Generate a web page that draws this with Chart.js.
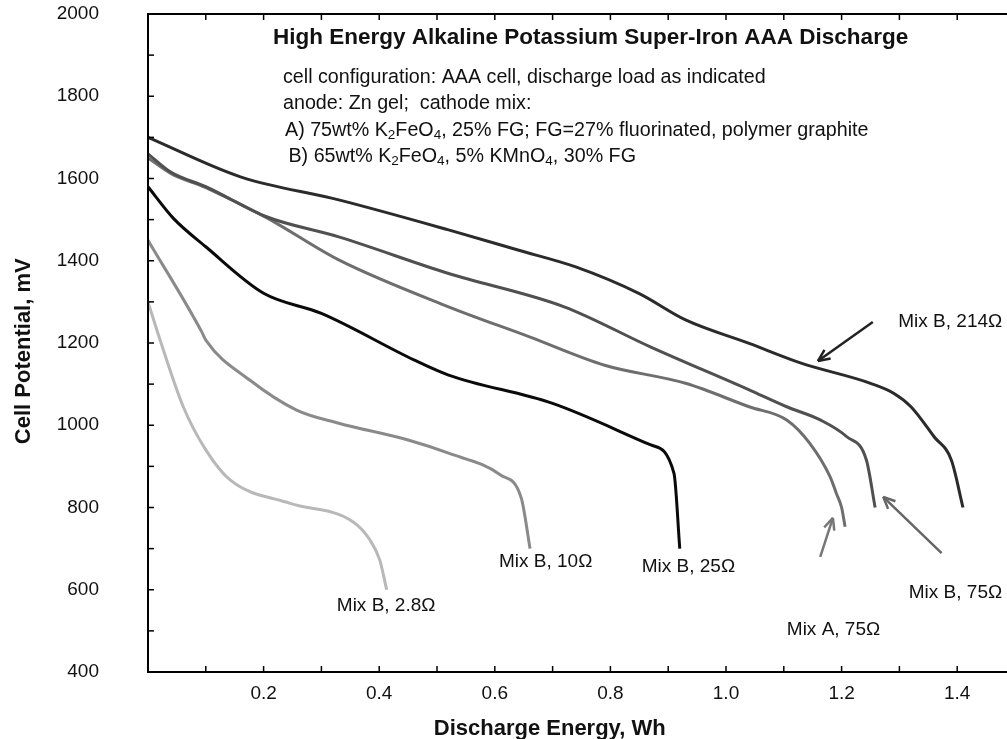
<!DOCTYPE html>
<html lang="en">
<head>
    <meta charset="UTF-8">
    <title>High Energy Alkaline Potassium Super-Iron AAA Discharge</title>
    <script src="https://cdn.jsdelivr.net/npm/chart.js"></script>
    <style>
        html, body { margin: 0; padding: 0; background: #fff; overflow: hidden; }
        #wrap { width: 1030px; height: 739px; }
    </style>
</head>
<body>
<div id="wrap"><canvas id="chart" width="1030" height="739"></canvas></div>
<script>
    // discharge energy (Wh) and cell potential (mV)
    const b214Energy = [0, 0.16, 0.33, 0.52, 0.64, 0.74, 0.85, 0.93, 1.04, 1.13, 1.25, 1.29, 1.32, 1.36, 1.39, 1.41];
    const b214Volt   = [1700, 1604, 1548, 1475, 1426, 1385, 1320, 1256, 1199, 1151, 1102, 1078, 1045, 972, 915, 800];

    const b75Energy = [0, 0.04, 0.10, 0.205, 0.33, 0.52, 0.72, 0.87, 1.04, 1.105, 1.163, 1.209, 1.243, 1.258];
    const b75Volt   = [1660, 1615, 1580, 1507, 1458, 1369, 1288, 1190, 1086, 1045, 1013, 972, 915, 800];

    const a75Energy = [0, 0.04, 0.10, 0.205, 0.33, 0.52, 0.66, 0.79, 0.93, 1.04, 1.105, 1.145, 1.18, 1.191, 1.20, 1.206];
    const a75Volt   = [1650, 1612, 1578, 1505, 1402, 1288, 1215, 1146, 1102, 1045, 1013, 956, 875, 834, 800, 753];

    const b25Energy = [0, 0.044, 0.10, 0.20, 0.30, 0.46, 0.52, 0.70, 0.87, 0.91, 0.92];
    const b25Volt   = [1580, 1503, 1434, 1321, 1272, 1159, 1122, 1053, 952, 883, 700];

    const b10Energy = [0, 0.093, 0.10, 0.176, 0.257, 0.33, 0.45, 0.52, 0.61, 0.646, 0.661];
    const b10Volt   = [1450, 1227, 1207, 1110, 1037, 1005, 964, 932, 879, 822, 700];

    const b28Energy = [0, 0.021, 0.061, 0.10, 0.142, 0.246, 0.355, 0.384, 0.401, 0.413];
    const b28Volt   = [1300, 1207, 1045, 940, 867, 810, 765, 721, 672, 600];

    const seriesNames  = ['Mix B, 214Ω', 'Mix B, 75Ω', 'Mix A, 75Ω', 'Mix B, 25Ω', 'Mix B, 10Ω', 'Mix B, 2.8Ω'];
    const seriesColors = ['#2b2b2b', '#505050', '#6e6e6e', '#0a0a0a', '#8a8a8a', '#b8b8b8'];
    const seriesEnergy = [b214Energy, b75Energy, a75Energy, b25Energy, b10Energy, b28Energy];
    const seriesVolt   = [b214Volt, b75Volt, a75Volt, b25Volt, b10Volt, b28Volt];

    // curve labels, placed in data units (Wh, mV)
    const labelNames = ['Mix B, 214Ω', 'Mix B, 75Ω', 'Mix A, 75Ω', 'Mix B, 25Ω', 'Mix B, 10Ω', 'Mix B, 2.8Ω'];
    const labelX = [1.388, 1.397, 1.186, 0.935, 0.688, 0.412];
    const labelY = [1251, 592, 502, 655, 667, 560];

    // arrows from label towards curve (Wh, mV)
    const arrowFromX = [1.254, 1.373, 1.163];
    const arrowFromY = [1251, 689, 680];
    const arrowToX   = [1.159, 1.272, 1.185];
    const arrowToY   = [1156, 826, 775];
    const arrowColors = ['#222', '#666', '#777'];

    const titleText = 'High Energy Alkaline Potassium Super-Iron AAA Discharge';
    // note lines; [text, isSubscript]
    const noteLines = [
        [['cell configuration: AAA cell, discharge load as indicated', false]],
        [['anode: Zn gel;  cathode mix:', false]],
        [['A) 75wt% K', false], ['2', true], ['FeO', false], ['4', true], [', 25% FG; FG=27% fluorinated, polymer graphite', false]],
        [[' B) 65wt% K', false], ['2', true], ['FeO', false], ['4', true], [', 5% KMnO', false], ['4', true], [', 30% FG', false]]
    ];

    const FONT = '"Liberation Sans", Arial, Helvetica, sans-serif';

    const datasets = seriesNames.map((name, i) => ({
        label: name,
        data: seriesEnergy[i].map((e, j) => ({ x: e, y: seriesVolt[i][j] })),
        borderColor: seriesColors[i],
        borderWidth: 3,
        pointRadius: 0,
        fill: false,
        cubicInterpolationMode: 'monotone'
    }));

    function line(ctx, x1, y1, x2, y2) {
        ctx.beginPath();
        ctx.moveTo(x1, y1);
        ctx.lineTo(x2, y2);
        ctx.stroke();
    }

    const decorations = {
        id: 'decorations',
        afterDraw(chart) {
            const { ctx, chartArea: a, scales: { x, y } } = chart;
            ctx.save();

            // frame
            ctx.strokeStyle = '#000';
            ctx.lineWidth = 2;
            ctx.strokeRect(a.left, a.top, a.right - a.left, a.bottom - a.top);

            // inward tick marks
            ctx.lineWidth = 1.5;
            x.ticks.forEach(t => {
                const px = x.getPixelForValue(t.value);
                line(ctx, px, a.bottom, px, a.bottom - 6);
                line(ctx, px, a.top, px, a.top + 6);
            });
            y.ticks.forEach(t => {
                const py = y.getPixelForValue(t.value);
                line(ctx, a.left, py, a.left + 6, py);
            });

            // title and notes
            ctx.fillStyle = '#111';
            ctx.textAlign = 'left';
            ctx.textBaseline = 'alphabetic';
            ctx.font = 'bold 22.5px ' + FONT;
            ctx.fillText(titleText, a.left + 125, 44);

            const noteX = [a.left + 135, a.left + 135, a.left + 137, a.left + 135];
            noteLines.forEach((segs, i) => {
                let cx = noteX[i];
                const base = 83 + i * 26.3;
                segs.forEach(([txt, sub]) => {
                    ctx.font = (sub ? '13.5px ' : '19.7px ') + FONT;
                    ctx.fillText(txt, cx, sub ? base + 3 : base);
                    cx += ctx.measureText(txt).width;
                });
            });

            // curve labels
            ctx.font = '19px ' + FONT;
            ctx.textAlign = 'center';
            ctx.textBaseline = 'middle';
            labelNames.forEach((name, i) => {
                ctx.fillText(name, x.getPixelForValue(labelX[i]), y.getPixelForValue(labelY[i]));
            });

            // arrows
            ctx.lineWidth = 2.5;
            arrowFromX.forEach((fx, i) => {
                const x1 = x.getPixelForValue(fx), y1 = y.getPixelForValue(arrowFromY[i]);
                const x2 = x.getPixelForValue(arrowToX[i]), y2 = y.getPixelForValue(arrowToY[i]);
                const ang = Math.atan2(y2 - y1, x2 - x1);
                ctx.strokeStyle = arrowColors[i];
                line(ctx, x1, y1, x2, y2);
                const h = 13;
                line(ctx, x2, y2, x2 - h * Math.cos(ang - 0.42), y2 - h * Math.sin(ang - 0.42));
                line(ctx, x2, y2, x2 - h * Math.cos(ang + 0.42), y2 - h * Math.sin(ang + 0.42));
            });

            // axis titles
            ctx.fillStyle = '#111';
            ctx.font = 'bold 22px ' + FONT;
            ctx.textAlign = 'center';
            ctx.textBaseline = 'alphabetic';
            ctx.fillText('Discharge Energy, Wh', x.getPixelForValue(0.695), 735);
            ctx.translate(30, y.getPixelForValue(1180));
            ctx.rotate(-Math.PI / 2);
            ctx.fillText('Cell Potential, mV', 0, 0);

            ctx.restore();
        }
    };

    const chart = new Chart(document.getElementById('chart'), {
        type: 'line',
        data: { datasets },
        options: {
            responsive: false,
            animation: false,
            layout: { padding: { top: 14, right: 15, left: 0, bottom: 0 } },
            plugins: { legend: { display: false }, tooltip: { enabled: false } },
            scales: {
                x: {
                    type: 'linear',
                    min: 0,
                    max: 1.5,
                    grid: { display: true, drawOnChartArea: false, drawTicks: true, tickLength: 8, color: 'rgba(0,0,0,0)' },
                    border: { display: false },
                    ticks: {
                        stepSize: 0.1,
                        padding: 2,
                        color: '#111',
                        font: { family: FONT, size: 19 },
                        callback: v => {
                            const k = Math.round(v * 10);
                            return (k > 0 && k < 15 && k % 2 === 0) ? (k / 10).toFixed(1) : '';
                        }
                    },
                    afterFit: s => { s.height = 67; }
                },
                y: {
                    min: 400,
                    max: 2000,
                    grid: { display: true, drawOnChartArea: false, drawTicks: true, tickLength: 47, color: 'rgba(0,0,0,0)' },
                    border: { display: false },
                    ticks: {
                        stepSize: 100,
                        padding: 2,
                        color: '#111',
                        font: { family: FONT, size: 19 },
                        callback: v => (v % 200 === 0 ? String(v) : '')
                    },
                    afterFit: s => { s.width = 148; }
                }
            }
        },
        plugins: [decorations]
    });
</script>
</body>
</html>
